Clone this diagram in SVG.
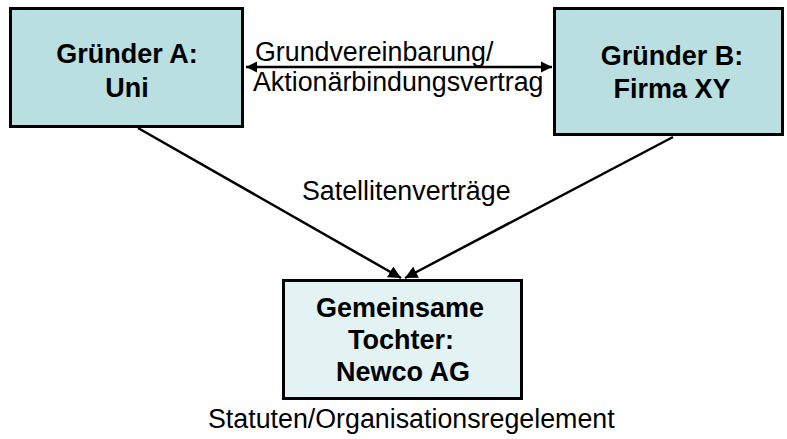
<svg xmlns="http://www.w3.org/2000/svg" width="787" height="439" viewBox="0 0 787 439">
  <defs>
    <marker id="head" viewBox="0 0 10 10" refX="10" refY="5" markerWidth="4.5" markerHeight="4.5" orient="auto-start-reverse" markerUnits="strokeWidth">
      <path d="M0,0 L10,5 L0,10 Z" fill="#000"/>
    </marker>
    <marker id="headBig" viewBox="0 0 10 10" refX="10" refY="5" markerWidth="5" markerHeight="5" orient="auto" markerUnits="strokeWidth">
      <path d="M0,0 L10,5 L0,10 Z" fill="#000"/>
    </marker>
  </defs>
  <style>
    .founder { fill: #b9dfe1; stroke: #000; stroke-width: 3; }
    .child { fill: #e3f2f3; stroke: #000; stroke-width: 3; }
    .title { font-family: "Liberation Sans", Arial, sans-serif; font-weight: bold; font-size: 27px; fill: #000; text-anchor: middle; }
    .label { font-family: "Liberation Sans", Arial, sans-serif; font-size: 26.8px; fill: #000; }
    .link { stroke: #000; stroke-width: 2.5; fill: none; }
  </style>
  <rect width="787" height="439" fill="#fff"/>

  <g id="connectors">
    <line class="link" x1="246" y1="67" x2="552" y2="67" stroke-width="2" marker-start="url(#head)" marker-end="url(#head)"/>
    <line class="link" x1="138" y1="128" x2="401" y2="278" marker-end="url(#headBig)"/>
    <line class="link" x1="673" y1="137" x2="405" y2="278" marker-end="url(#headBig)"/>
  </g>

  <g id="founder-a">
    <rect class="founder" x="10.5" y="8.5" width="232" height="118"/>
    <text class="title" x="127" y="63">Gründer A:</text>
    <text class="title" x="127" y="97">Uni</text>
  </g>

  <g id="founder-b">
    <rect class="founder" x="554.5" y="8.5" width="228" height="126"/>
    <text class="title" x="672" y="65">Gründer B:</text>
    <text class="title" x="672" y="98">Firma XY</text>
  </g>

  <g id="newco">
    <rect class="child" x="283.5" y="280.5" width="238" height="118"/>
    <text class="title" x="400" y="317">Gemeinsame</text>
    <text class="title" x="401" y="349">Tochter:</text>
    <text class="title" x="403" y="381">Newco AG</text>
  </g>

  <g id="labels">
    <text class="label" x="255" y="61">Grundvereinbarung/</text>
    <text class="label" x="253" y="91">Aktionärbindungsvertrag</text>
    <text class="label" x="302" y="200">Satellitenverträge</text>
    <text class="label" x="208" y="428">Statuten/Organisationsregelement</text>
  </g>
</svg>
